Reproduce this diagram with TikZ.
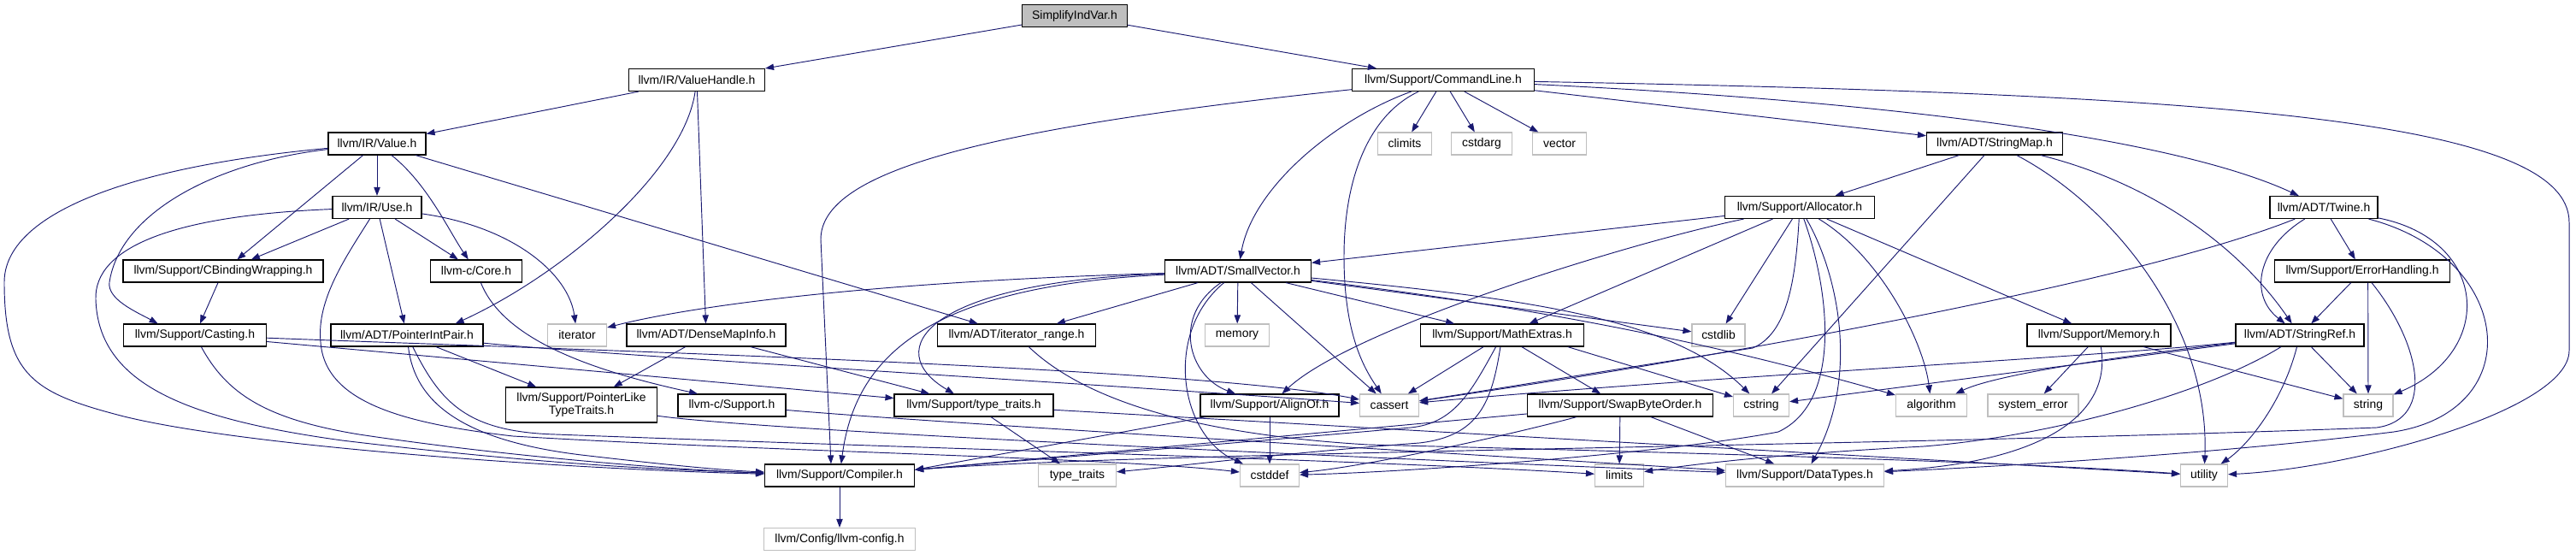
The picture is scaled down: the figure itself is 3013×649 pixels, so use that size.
\documentclass[tikz,border=0pt]{standalone}
\usepackage{fontspec}
\setmainfont{Liberation Sans}
\usetikzlibrary{arrows.meta}
\definecolor{incblue}{HTML}{191970}
\definecolor{hdrgray}{HTML}{BFBFBF}
\tikzset{
  hfile/.style={draw=black, line width=1pt, fill=white, inner sep=0pt,
    minimum height=0.78cm, font={\fontsize{11.9}{12.8}\selectfont}},
  stdhdr/.style={hfile, draw=hdrgray},
  wd/.style={minimum width=#1*0.03cm},
  inc/.style={incblue, line width=0.8pt, -{Triangle[length=0.3cm,width=0.22cm]}},
}
\begin{document}
\begin{tikzpicture}[x=0.03cm,y=-0.03cm]
\useasboundingbox (0,0) rectangle (3013,649);
\node[hfile,fill=hdrgray,wd=123] (root) at (1257,18.5) {SimplifyIndVar.h};
\node[hfile,wd=159] (vhandle) at (815,93.5) {llvm/IR/ValueHandle.h};
\node[hfile,wd=213] (cmdline) at (1688,93.5) {llvm/Support/CommandLine.h};
\node[hfile,wd=114] (value) at (441,168) {llvm/IR/Value.h};
\node[stdhdr,wd=63] (climits) at (1643,168) {climits};
\node[stdhdr,wd=71] (cstdarg) at (1733,168) {cstdarg};
\node[stdhdr,wd=63] (vector) at (1824,168) {vector};
\node[hfile,wd=159] (strmap) at (2333,168) {llvm/ADT/StringMap.h};
\node[hfile,wd=104] (use) at (441,242.5) {llvm/IR/Use.h};
\node[hfile,wd=175] (alloc) at (2105,242.5) {llvm/Support/Allocator.h};
\node[hfile,wd=126] (twine) at (2718,242.5) {llvm/ADT/Twine.h};
\node[hfile,wd=234] (cbind) at (261,317) {llvm/Support/CBindingWrapping.h};
\node[hfile,wd=107] (core) at (557,317) {llvm-c/Core.h};
\node[hfile,wd=171] (smallvec) at (1448,317) {llvm/ADT/SmallVector.h};
\node[hfile,wd=205] (errhand) at (2763,317) {llvm/Support/ErrorHandling.h};
\node[hfile,wd=167] (casting) at (228,392) {llvm/Support/Casting.h};
\node[hfile,wd=178] (pip) at (476,392) {llvm/ADT/PointerIntPair.h};
\node[stdhdr,wd=69] (iterator) at (675,392) {iterator};
\node[hfile,wd=186] (densemap) at (826,392) {llvm/ADT/DenseMapInfo.h};
\node[hfile,wd=185] (itrange) at (1189,392) {llvm/ADT/iterator\_range.h};
\node[stdhdr,wd=75] (memory) at (1447,392) {memory};
\node[hfile,wd=191] (mathext) at (1757,392) {llvm/Support/MathExtras.h};
\node[stdhdr,wd=62] (cstdlib) at (2010,392) {cstdlib};
\node[hfile,wd=168] (memoryh) at (2455,392) {llvm/Support/Memory.h};
\node[hfile,wd=150] (strref) at (2690,392) {llvm/ADT/StringRef.h};
\node[hfile,wd=177,minimum height=1.23cm,align=center] (ptrlike) at (680,473.5) {llvm/Support/PointerLike\\TypeTraits.h};
\node[hfile,wd=126] (csupport) at (856,474) {llvm-c/Support.h};
\node[hfile,wd=186] (typetraitsh) at (1139,474) {llvm/Support/type\_traits.h};
\node[hfile,wd=162] (alignof) at (1485,474) {llvm/Support/AlignOf.h};
\node[stdhdr,wd=69] (cassert) at (1625,474) {cassert};
\node[hfile,wd=217] (swapbyte) at (1895,474) {llvm/Support/SwapByteOrder.h};
\node[stdhdr,wd=65] (cstring) at (2060,474) {cstring};
\node[stdhdr,wd=83] (algorithm) at (2259,474) {algorithm};
\node[stdhdr,wd=106] (syserr) at (2378,474) {system\_error};
\node[stdhdr,wd=58] (string) at (2770,474) {string};
\node[hfile,wd=175] (compiler) at (982,556) {llvm/Support/Compiler.h};
\node[stdhdr,wd=91] (stdtt) at (1260,556) {type\_traits};
\node[stdhdr,wd=69] (cstddef) at (1485,556) {cstddef};
\node[stdhdr,wd=57] (limits) at (1894,556) {limits};
\node[stdhdr,wd=185] (datatypes) at (2111,556) {llvm/Support/DataTypes.h};
\node[stdhdr,wd=55] (utility) at (2578,556) {utility};
\node[stdhdr,wd=177] (llvmconfig) at (982,630.5) {llvm/Config/llvm-config.h};
\draw[inc] (root) -- (vhandle);
\draw[inc] (root) -- (cmdline);
\draw[inc] (vhandle) -- (value);
\draw[inc] (vhandle) .. controls (800,200) and (660,320) .. ([xshift=1.7cm]pip.north);
\draw[inc] (vhandle) -- (densemap);
\draw[inc] (cmdline) -- (climits);
\draw[inc] (cmdline) -- (cstdarg);
\draw[inc] (cmdline) -- (vector);
\draw[inc] (cmdline) -- (strmap);
\draw[inc] (cmdline) .. controls (2200,118) and (2540,160) .. (twine);
\draw[inc] (cmdline) .. controls (2600,110) and (3005,140) .. (3005,260) -- (3005,410) .. controls (3005,480) and (2750,548) .. (utility);
\draw[inc] (cmdline) .. controls (1560,140) and (1465,220) .. (smallvec);
\draw[inc] (cmdline) .. controls (1150,150) and (960,200) .. (960,280) -- ([xshift=-0.3cm]compiler.north);
\draw[inc] (cmdline) .. controls (1600,135) and (1572,210) .. (1572,300) .. controls (1572,390) and (1595,430) .. (cassert);
\draw[inc] (value) -- (use);
\draw[inc] (value) -- (cbind);
\draw[inc] (value) .. controls (500,215) and (525,270) .. (core);
\draw[inc] (value) -- (itrange);
\draw[inc] (value) .. controls (250,190) and (140,250) .. (128,330) .. controls (125,350) and (160,365) .. ([xshift=-1.3cm]casting.north);
\draw[inc] (value) .. controls (150,195) and (5,250) .. (5,330) .. controls (5,440) and (40,460) .. (145,487) .. controls (300,525) and (700,550) .. (compiler);
\draw[inc] (use) -- (cbind);
\draw[inc] (use) -- (core);
\draw[inc] (use) -- (pip);
\draw[inc] (use) .. controls (600,265) and (665,320) .. (iterator);
\draw[inc] (use) .. controls (200,252) and (110,290) .. (112,350) .. controls (115,450) and (220,490) .. (400,515) .. controls (650,545) and (800,550) .. (compiler);
\draw[inc] (use) .. controls (405,300) and (370,350) .. (375,400) .. controls (380,470) and (470,495) .. (600,510) .. controls (900,528) and (1300,535) .. (cstddef);
\draw[inc] (cbind) -- (casting);
\draw[inc] (core) .. controls (590,400) and (700,435) .. ([xshift=-1.2cm]csupport.north);
\draw[inc] (csupport) .. controls (1100,495) and (1700,530) .. (datatypes);
\draw[inc] (casting) .. controls (700,410) and (1400,430) .. (cassert);
\draw[inc] (casting) -- (typetraitsh);
\draw[inc] (casting) .. controls (265,460) and (310,490) .. (420,508) .. controls (600,535) and (800,550) .. (compiler);
\draw[inc] (pip) -- (ptrlike);
\draw[inc] (pip) .. controls (700,415) and (1300,450) .. (cassert);
\draw[inc] (pip) .. controls (485,470) and (540,515) .. (680,532) .. controls (800,546) and (850,550) .. (compiler);
\draw[inc] (pip) .. controls (515,470) and (545,505) .. (650,508) .. controls (1100,525) and (1600,538) .. (limits);
\draw[inc] (densemap) -- (ptrlike);
\draw[inc] (densemap) -- (typetraitsh);
\draw[inc] (ptrlike) .. controls (900,505) and (1700,540) .. (datatypes);
\draw[inc] (itrange) .. controls (1250,450) and (1350,505) .. (1600,520) .. controls (2000,530) and (2350,540) .. (utility);
\draw[inc] (typetraitsh) -- (stdtt);
\draw[inc] (typetraitsh) -- (utility);
\draw[inc] (smallvec) .. controls (1000,330) and (800,360) .. (iterator);
\draw[inc] (smallvec) -- (itrange);
\draw[inc] (smallvec) -- (memory);
\draw[inc] (smallvec) -- (mathext);
\draw[inc] (smallvec) -- (cassert);
\draw[inc] (smallvec) .. controls (1370,370) and (1390,440) .. ([xshift=-1.2cm]alignof.north);
\draw[inc] (smallvec) .. controls (1360,390) and (1380,510) .. (cstddef);
\draw[inc] (smallvec) .. controls (1080,335) and (1000,420) .. (compiler);
\draw[inc] (smallvec) .. controls (1080,330) and (1030,410) .. (typetraitsh);
\draw[inc] (smallvec) -- (cstdlib);
\draw[inc] (smallvec) .. controls (1800,350) and (1960,375) .. (cstring);
\draw[inc] (smallvec) .. controls (1800,360) and (2000,400) .. (algorithm);
\draw[inc] (alloc) -- (smallvec);
\draw[inc] (alloc) .. controls (1900,285) and (1580,385) .. (alignof);
\draw[inc] (alloc) -- (mathext);
\draw[inc] (alloc) -- (cstdlib);
\draw[inc] (alloc) .. controls (2100,330) and (2090,390) .. (2050,407) .. controls (1900,430) and (1750,455) .. (cassert);
\draw[inc] (alloc) .. controls (2150,320) and (2175,440) .. (datatypes);
\draw[inc] (alloc) .. controls (2140,340) and (2155,470) .. (2080,505) .. controls (1950,530) and (1650,552) .. (cstddef);
\draw[inc] (alloc) -- (memoryh);
\draw[inc] (alloc) .. controls (2200,300) and (2250,400) .. (algorithm);
\draw[inc] (strmap) -- (alloc);
\draw[inc] (strmap) -- (cstring);
\draw[inc] (strmap) .. controls (2470,240) and (2585,380) .. (utility);
\draw[inc] (strmap) .. controls (2520,215) and (2620,290) .. (strref);
\draw[inc] (twine) .. controls (2500,330) and (2000,420) .. (cassert);
\draw[inc] (twine) .. controls (2640,290) and (2630,345) .. (strref);
\draw[inc] (twine) -- (errhand);
\draw[inc] (twine) .. controls (2910,280) and (2920,410) .. (string);
\draw[inc] (twine) .. controls (2940,300) and (2960,480) .. (2800,505) .. controls (2600,530) and (2350,545) .. (datatypes);
\draw[inc] (errhand) -- (strref);
\draw[inc] ([xshift=0.2cm]errhand.south) -- (string);
\draw[inc] (errhand) .. controls (2830,400) and (2850,490) .. (2780,500) .. controls (2200,522) and (1350,528) .. ([yshift=0.2cm]compiler.east);
\draw[inc] (strref) .. controls (2450,420) and (2330,440) .. (algorithm);
\draw[inc] (strref) -- (cstring);
\draw[inc] (strref) .. controls (2450,418) and (2000,440) .. (cassert);
\draw[inc] (strref) .. controls (2580,460) and (2400,510) .. (2250,522) .. controls (2100,530) and (2000,540) .. (limits);
\draw[inc] (strref) -- (string);
\draw[inc] (strref) .. controls (2670,470) and (2630,520) .. (utility);
\draw[inc] (memoryh) -- (syserr);
\draw[inc] (memoryh) -- (string);
\draw[inc] (memoryh) .. controls (2470,480) and (2400,540) .. (datatypes);
\draw[inc] (mathext) -- (cassert);
\draw[inc] (mathext) -- (swapbyte);
\draw[inc] ([xshift=2.3cm]mathext.south) -- (cstring);
\draw[inc] (mathext) .. controls (1720,460) and (1700,495) .. (1650,500) .. controls (1400,522) and (1200,538) .. ([yshift=0.2cm]compiler.east);
\draw[inc] (mathext) .. controls (1745,470) and (1730,510) .. (1660,518) .. controls (1500,530) and (1380,545) .. (stdtt);
\draw[inc] (swapbyte) -- ([yshift=0.2cm]compiler.east);
\draw[inc] (swapbyte) .. controls (1760,510) and (1600,545) .. (cstddef);
\draw[inc] (swapbyte) -- (limits);
\draw[inc] (swapbyte) -- (datatypes);
\draw[inc] (alignof) -- (cstddef);
\draw[inc] (alignof) -- ([yshift=0.2cm]compiler.east);
\draw[inc] (compiler) -- (llvmconfig);
\end{tikzpicture}
\end{document}
